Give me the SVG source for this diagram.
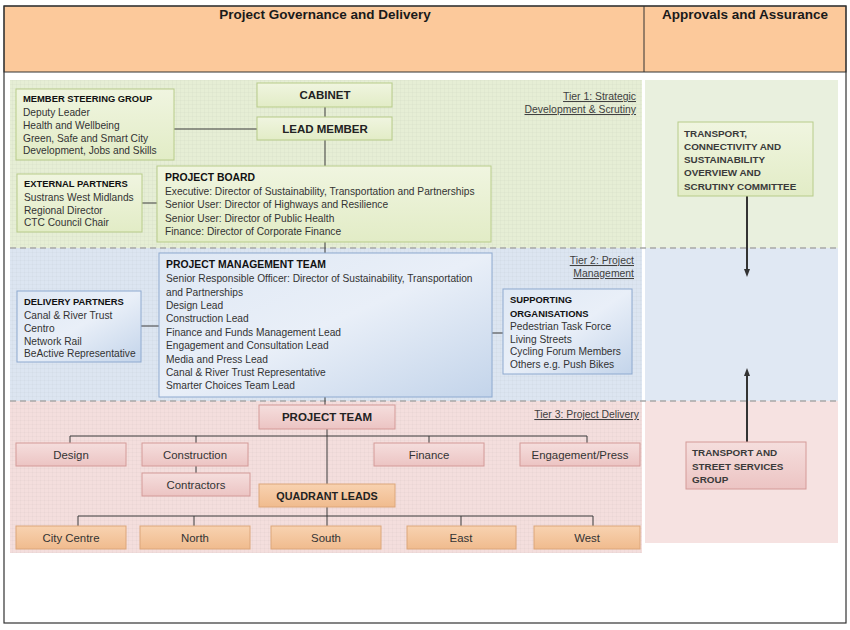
<svg xmlns="http://www.w3.org/2000/svg" width="850" height="630" viewBox="0 0 850 630">
<style>
.hdr{font-family:"Liberation Sans",Arial,sans-serif;font-weight:bold;font-size:13.5px;fill:#1a1a1a}
.t{font-family:"Liberation Sans",Arial,sans-serif;font-size:10.2px;fill:#333}
.tb{font-family:"Liberation Sans",Arial,sans-serif;font-size:9.4px;font-weight:bold;fill:#111}
.big{font-family:"Liberation Sans",Arial,sans-serif;font-size:11.5px;font-weight:bold;fill:#222}
.lbl{font-family:"Liberation Sans",Arial,sans-serif;font-size:11.4px;fill:#333}
.tier{font-family:"Liberation Sans",Arial,sans-serif;font-size:10.4px;fill:#404040;text-decoration:underline}
.rb{font-family:"Liberation Sans",Arial,sans-serif;font-size:9.9px;font-weight:bold;fill:#3a3a3a}
.g{fill:url(#gg);stroke:#b8cc8a;stroke-width:1}
.b{fill:url(#bg);stroke:#8eaad0;stroke-width:1}
.p{fill:url(#pg);stroke:#d49a98;stroke-width:1}
.o{fill:url(#og);stroke:#dca67a;stroke-width:1}
.c{stroke:#3a3a3a;stroke-width:1;fill:none}
.dash{stroke:#a8a8a8;stroke-width:1.3;stroke-dasharray:6 4;fill:none}
</style>
<defs>
<pattern id="grid" width="4" height="4" patternUnits="userSpaceOnUse">
<path d="M0 0H4M0 0V4" stroke="#000" stroke-opacity="0.035" stroke-width="1"/>
</pattern>
<linearGradient id="gg" x1="0" y1="0" x2="0" y2="1"><stop offset="0" stop-color="#f0f5e0"/><stop offset="1" stop-color="#e2ecc6"/></linearGradient>
<linearGradient id="bg" x1="0" y1="0" x2="1" y2="1"><stop offset="0" stop-color="#dfe8f4"/><stop offset="0.5" stop-color="#e9eff8"/><stop offset="1" stop-color="#c3d4ea"/></linearGradient>
<linearGradient id="pg" x1="0" y1="0" x2="0" y2="1"><stop offset="0" stop-color="#f5dedd"/><stop offset="1" stop-color="#ecc4c3"/></linearGradient>
<linearGradient id="og" x1="0" y1="0" x2="0" y2="1"><stop offset="0" stop-color="#f8d2b0"/><stop offset="1" stop-color="#f0bb8e"/></linearGradient>
<marker id="ah" markerWidth="8" markerHeight="8" refX="4" refY="4" orient="auto" markerUnits="userSpaceOnUse">
<path d="M0 1L8 4L0 7Z" fill="#333"/>
</marker>
</defs>
<rect x="0" y="0" width="850" height="630" fill="#fff"/>
<g id="header">
<rect x="4" y="6" width="842" height="66" fill="#fcc99b" stroke="#333" stroke-width="1"/>
<line x1="644" y1="6" x2="644" y2="72" stroke="#333" stroke-width="1"/>
<text class="hdr" x="325" y="19" text-anchor="middle">Project Governance and Delivery</text>
<text class="hdr" x="745" y="19" text-anchor="middle">Approvals and Assurance</text>
</g>
<rect x="4" y="6" width="842" height="617" fill="none" stroke="#333" stroke-width="1.2"/>
<g id="tiers">
<rect x="10" y="80" width="632" height="168" fill="#e6eed5"/>
<rect x="10" y="248" width="632" height="153" fill="#dce5f1"/>
<rect x="10" y="401" width="632" height="152" fill="#f4dedd"/>
<rect x="645" y="80" width="193" height="168" fill="#e9f0de"/>
<rect x="645" y="248" width="193" height="153" fill="#e0e8f3"/>
<rect x="645" y="401" width="193" height="142" fill="#f6e2e1"/>
<rect x="10" y="80" width="632" height="473" fill="url(#grid)"/>
<line class="dash" x1="10" y1="248" x2="838" y2="248"/>
<line class="dash" x1="10" y1="401" x2="838" y2="401"/>
<text class="tier" x="636" y="100" text-anchor="end">Tier 1: Strategic</text>
<text class="tier" x="636" y="113" text-anchor="end">Development &amp; Scrutiny</text>
<text class="tier" x="634" y="264" text-anchor="end">Tier 2: Project</text>
<text class="tier" x="634" y="277" text-anchor="end">Management</text>
<text class="tier" x="639" y="418" text-anchor="end">Tier 3: Project Delivery</text>
</g>
<g id="connectors">
<line class="c" x1="325" y1="107" x2="325" y2="117"/>
<line class="c" x1="325" y1="140" x2="325" y2="166"/>
<line class="c" x1="174" y1="129" x2="257" y2="129"/>
<line class="c" x1="142" y1="203" x2="157" y2="203"/>
<line class="c" x1="325" y1="242" x2="325" y2="253"/>
<line class="c" x1="141" y1="326" x2="159" y2="326"/>
<line class="c" x1="492" y1="333" x2="503" y2="333"/>
<line class="c" x1="325" y1="397" x2="325" y2="405"/>
<line class="c" x1="327" y1="429" x2="327" y2="484"/>
<path class="c" d="M70 443V436H587V443M196 436V443M429 436V443"/>
<line class="c" x1="196" y1="466" x2="196" y2="473"/>
<path class="c" d="M78 526V516H593V526M194 516V526M461 516V526"/>
<line class="c" x1="327" y1="507" x2="327" y2="526"/>
<line x1="747" y1="196" x2="747" y2="273" stroke="#333" stroke-width="2" marker-end="url(#ah)"/>
<line x1="747" y1="442" x2="747" y2="372" stroke="#333" stroke-width="2" marker-end="url(#ah)"/>
</g>
<g id="cabinet">
<rect class="g" x="257" y="83" width="135" height="24"/>
<text class="big" x="325" y="99" text-anchor="middle">CABINET</text>
</g>
<g id="lead-member">
<rect class="g" x="257" y="117" width="135" height="23"/>
<text class="big" x="325" y="132.5" text-anchor="middle">LEAD MEMBER</text>
</g>
<g id="member-steering-group">
<rect class="g" x="16" y="89" width="158" height="71"/>
<text class="tb" x="23" y="102">MEMBER STEERING GROUP</text>
<text class="t" x="23" y="115.5">Deputy Leader</text>
<text class="t" x="23" y="128.5">Health and Wellbeing</text>
<text class="t" x="23" y="141.5">Green, Safe and Smart City</text>
<text class="t" x="23" y="154">Development, Jobs and Skills</text>
</g>
<g id="external-partners">
<rect class="g" x="17" y="174" width="125" height="58"/>
<text class="tb" x="24" y="187">EXTERNAL PARTNERS</text>
<text class="t" x="24" y="200.5">Sustrans West Midlands</text>
<text class="t" x="24" y="213.5">Regional Director</text>
<text class="t" x="24" y="226">CTC Council Chair</text>
</g>
<g id="project-board">
<rect class="g" x="157" y="166" width="334" height="76"/>
<text class="tb" x="165" y="180.5" style="font-size:10.4px">PROJECT BOARD</text>
<text class="t" x="165" y="194.5">Executive: Director of Sustainability, Transportation and Partnerships</text>
<text class="t" x="165" y="208">Senior User: Director of Highways and Resilience</text>
<text class="t" x="165" y="221.5">Senior User: Director of Public Health</text>
<text class="t" x="165" y="235">Finance: Director of Corporate Finance</text>
</g>
<g id="project-management-team">
<rect class="b" x="159" y="253" width="333" height="144"/>
<text class="tb" x="166" y="268" style="font-size:10.4px">PROJECT MANAGEMENT TEAM</text>
<text class="t" x="166" y="281.5">Senior Responsible Officer: Director of Sustainability, Transportation</text>
<text class="t" x="166" y="295.5">and Partnerships</text>
<text class="t" x="166" y="308.5">Design Lead</text>
<text class="t" x="166" y="321.5">Construction Lead</text>
<text class="t" x="166" y="335.5">Finance and Funds Management Lead</text>
<text class="t" x="166" y="348.5">Engagement and Consultation Lead</text>
<text class="t" x="166" y="362.5">Media and Press Lead</text>
<text class="t" x="166" y="375.5">Canal &amp; River Trust Representative</text>
<text class="t" x="166" y="388.5">Smarter Choices Team Lead</text>
</g>
<g id="delivery-partners">
<rect class="b" x="17" y="291" width="124" height="71"/>
<text class="tb" x="24" y="305">DELIVERY PARTNERS</text>
<text class="t" x="24" y="318.5">Canal &amp; River Trust</text>
<text class="t" x="24" y="331.5">Centro</text>
<text class="t" x="24" y="344.5">Network Rail</text>
<text class="t" x="24" y="356.5">BeActive Representative</text>
</g>
<g id="supporting-organisations">
<rect class="b" x="503" y="289" width="129" height="85"/>
<text class="tb" x="510" y="302.5">SUPPORTING</text>
<text class="tb" x="510" y="316.5">ORGANISATIONS</text>
<text class="t" x="510" y="329.5">Pedestrian Task Force</text>
<text class="t" x="510" y="342.5">Living Streets</text>
<text class="t" x="510" y="354.5">Cycling Forum Members</text>
<text class="t" x="510" y="367.5">Others e.g. Push Bikes</text>
</g>
<g id="project-team">
<rect class="p" x="259" y="405" width="136" height="24"/>
<text class="big" x="327" y="421" text-anchor="middle">PROJECT TEAM</text>
</g>
<g id="design"><rect class="p" x="16" y="443" width="110" height="23"/><text class="lbl" x="71" y="458.5" text-anchor="middle">Design</text></g>
<g id="construction"><rect class="p" x="142" y="443" width="106" height="23"/><text class="lbl" x="195" y="458.5" text-anchor="middle">Construction</text></g>
<g id="contractors"><rect class="p" x="142" y="473" width="108" height="23"/><text class="lbl" x="196" y="488.5" text-anchor="middle">Contractors</text></g>
<g id="finance"><rect class="p" x="374" y="443" width="110" height="23"/><text class="lbl" x="429" y="458.5" text-anchor="middle">Finance</text></g>
<g id="engagement-press"><rect class="p" x="520" y="443" width="120" height="23"/><text class="lbl" x="580" y="458.5" text-anchor="middle">Engagement/Press</text></g>
<g id="quadrant-leads">
<rect class="o" x="259" y="484" width="136" height="23"/>
<text class="big" x="327" y="499.5" text-anchor="middle" style="font-size:10.8px">QUADRANT LEADS</text>
</g>
<g id="city-centre"><rect class="o" x="16" y="526" width="110" height="23"/><text class="lbl" x="71" y="541.5" text-anchor="middle">City Centre</text></g>
<g id="north"><rect class="o" x="140" y="526" width="110" height="23"/><text class="lbl" x="195" y="541.5" text-anchor="middle">North</text></g>
<g id="south"><rect class="o" x="271" y="526" width="110" height="23"/><text class="lbl" x="326" y="541.5" text-anchor="middle">South</text></g>
<g id="east"><rect class="o" x="407" y="526" width="109" height="23"/><text class="lbl" x="461" y="541.5" text-anchor="middle">East</text></g>
<g id="west"><rect class="o" x="534" y="526" width="106" height="23"/><text class="lbl" x="587" y="541.5" text-anchor="middle">West</text></g>
<g id="scrutiny-committee">
<rect class="g" x="678" y="122" width="135" height="74"/>
<text class="rb" x="684" y="136.5">TRANSPORT,</text>
<text class="rb" x="684" y="149.5">CONNECTIVITY AND</text>
<text class="rb" x="684" y="162.5">SUSTAINABILITY</text>
<text class="rb" x="684" y="175.5">OVERVIEW AND</text>
<text class="rb" x="684" y="190">SCRUTINY COMMITTEE</text>
</g>
<g id="street-services-group">
<rect class="p" x="686" y="442" width="120" height="47"/>
<text class="rb" x="692" y="455.5">TRANSPORT AND</text>
<text class="rb" x="692" y="469.5">STREET SERVICES</text>
<text class="rb" x="692" y="482.5">GROUP</text>
</g>
</svg>
